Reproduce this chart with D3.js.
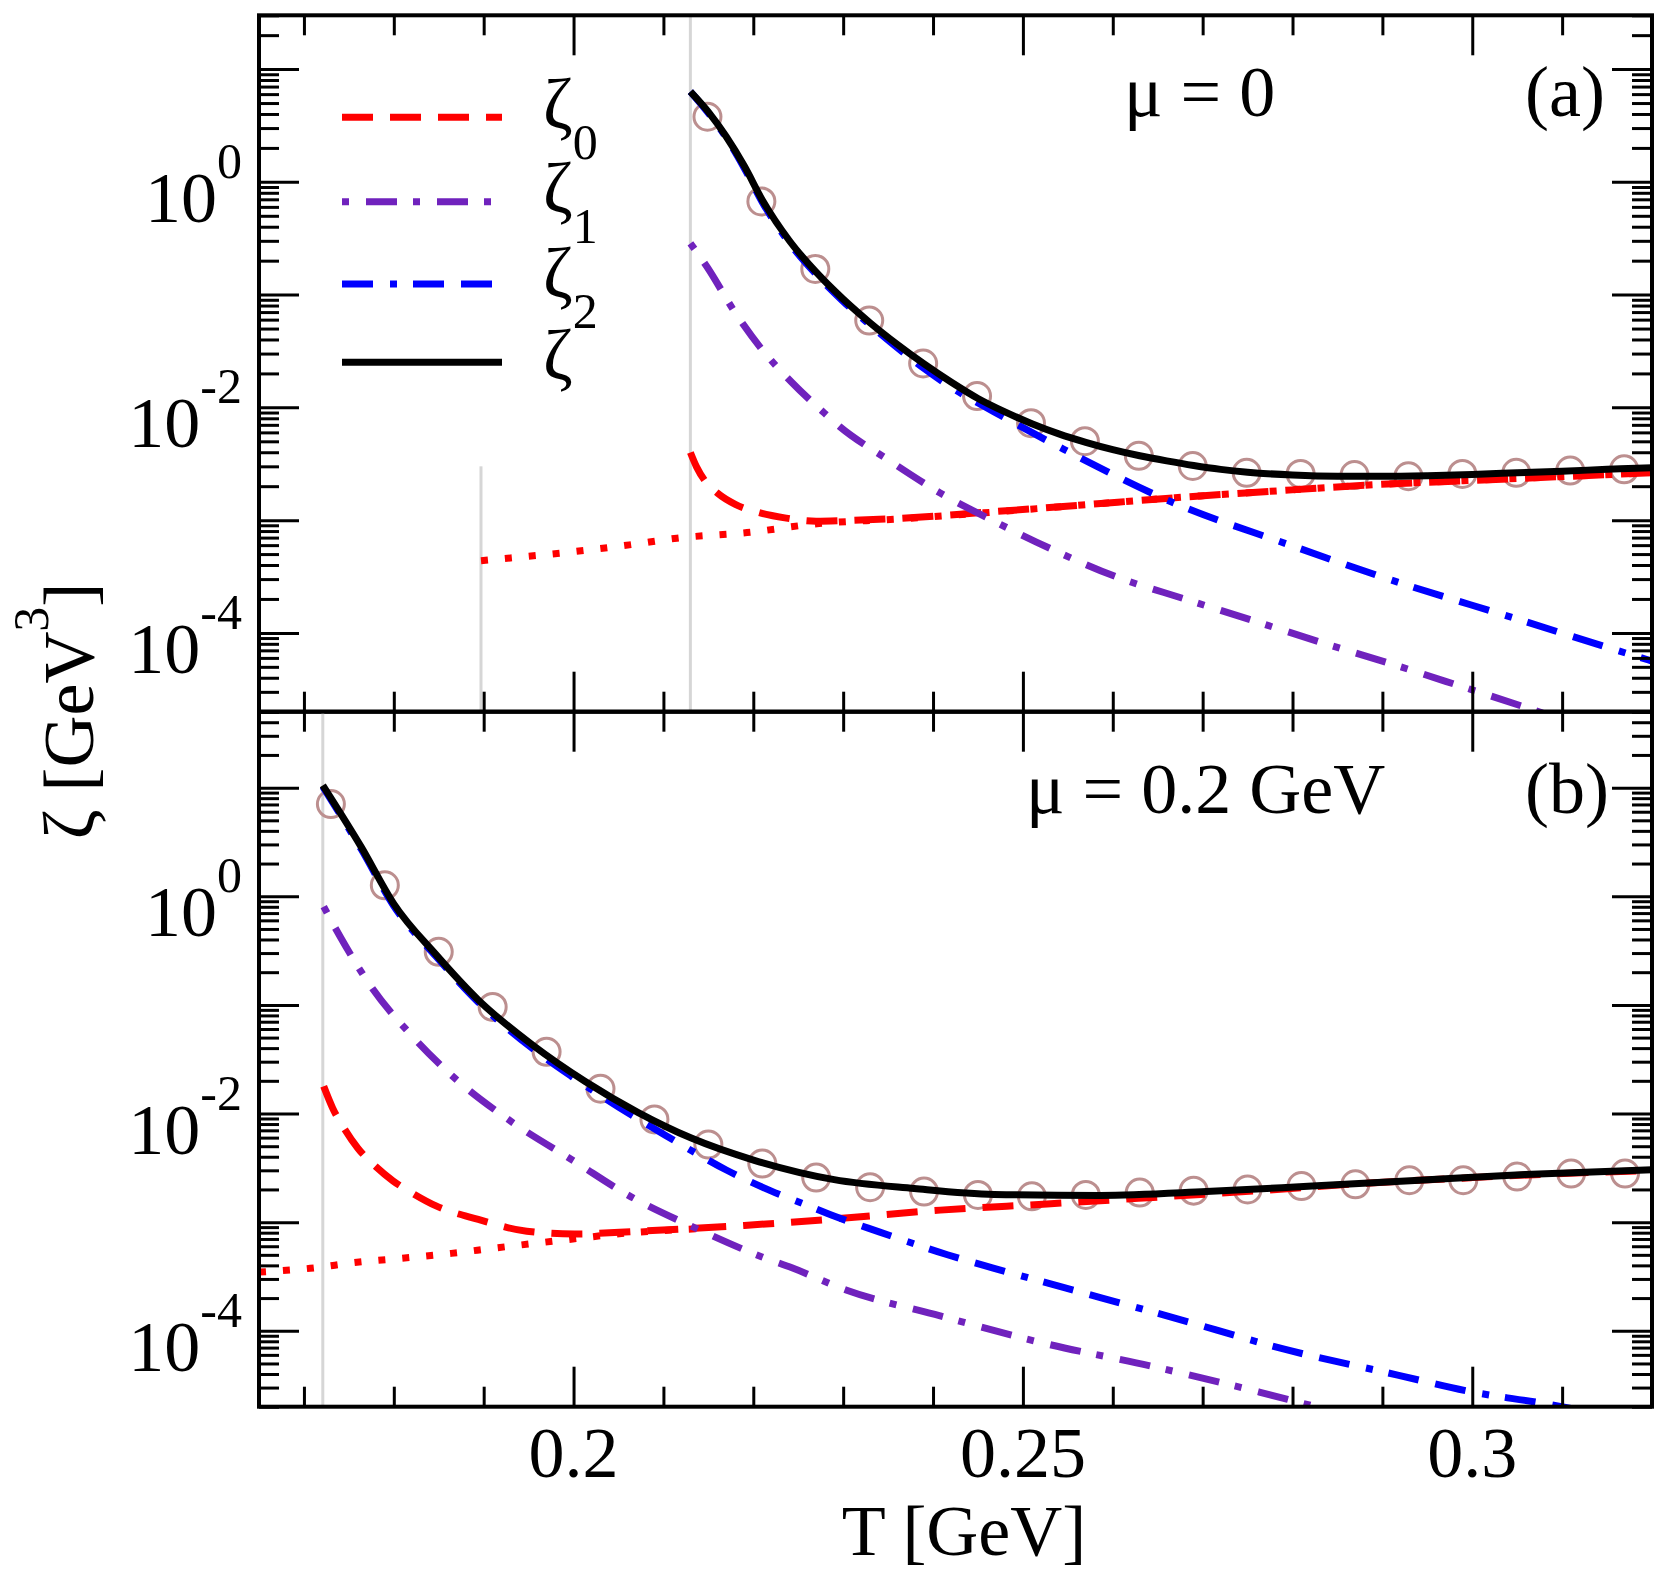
<!DOCTYPE html>
<html lang="en">
<head>
<meta charset="UTF-8">
<title>Bulk viscosity vs T</title>
<script src="https://d3js.org/d3.v7.min.js"></script>
<style>
  body { margin: 0; background: #fff; }
  svg { display: block; font-family: "Liberation Serif", "Times New Roman", serif; }
</style>
</head>
<body>
<div id="chart"></div>
<script>
// ---- axis ticks / labels ----
const xMajorTicks = [0.2, 0.25, 0.3];
const xTickLabels = ["0.2", "0.25", "0.3"];
const xMinorTicks = [0.17, 0.18, 0.19, 0.21, 0.22, 0.23, 0.24, 0.26, 0.27, 0.28, 0.29, 0.31];
const yLabelValues = [1, 1e-2, 1e-4];
const yLabelExps = ["0", "-2", "-4"];
const panelTags = ["(a)", "(b)"];
const panelMu = ["\u03bc = 0", "\u03bc = 0.2 GeV"];
const legendSubs = ["0", "1", "2", ""];

// ---- panel (a): mu = 0 ----
const aGreyT = [0.1897, 0.213];
const aGreyTop = [3.0e-3, 30];
const aPoints = [
  [0.2149, 3.78], [0.2209, 0.671], [0.2269, 0.169], [0.2329, 5.89e-2], [0.2389, 2.45e-2],
  [0.2449, 1.26e-2], [0.2509, 7.24e-3], [0.2569, 5.01e-3], [0.2629, 3.72e-3], [0.2689, 3.02e-3],
  [0.2749, 2.63e-3], [0.2809, 2.57e-3], [0.2869, 2.51e-3], [0.2929, 2.45e-3], [0.2989, 2.57e-3],
  [0.3049, 2.63e-3], [0.3109, 2.75e-3], [0.3169, 2.82e-3]
];
const aZeta = [
  [0.2130, 6.31], [0.2150, 4.17], [0.2170, 2.51], [0.2190, 1.38], [0.2210, 0.692],
  [0.2240, 0.302], [0.2270, 0.158], [0.2300, 9.12e-2], [0.2330, 5.62e-2], [0.2360, 3.63e-2],
  [0.2390, 2.43e-2], [0.2420, 1.68e-2], [0.2450, 1.20e-2], [0.2480, 9.12e-3], [0.2510, 7.16e-3],
  [0.2540, 5.82e-3], [0.2570, 4.90e-3], [0.2600, 4.22e-3], [0.2630, 3.72e-3], [0.2660, 3.35e-3],
  [0.2690, 3.05e-3], [0.2720, 2.82e-3], [0.2750, 2.66e-3], [0.2800, 2.51e-3], [0.2850, 2.45e-3],
  [0.2900, 2.45e-3], [0.2950, 2.48e-3], [0.3000, 2.54e-3], [0.3050, 2.63e-3], [0.3100, 2.72e-3],
  [0.3150, 2.82e-3], [0.3200, 2.92e-3]
];
const aZeta2 = [
  [0.2130, 6.31], [0.2150, 4.07], [0.2170, 2.45], [0.2190, 1.32], [0.2210, 0.661],
  [0.2240, 0.288], [0.2270, 0.151], [0.2300, 8.71e-2], [0.2330, 5.37e-2], [0.2360, 3.39e-2],
  [0.2390, 2.21e-2], [0.2420, 1.51e-2], [0.2468, 9.12e-3], [0.2545, 4.27e-3], [0.2669, 1.41e-3],
  [0.2793, 6.17e-4], [0.2917, 2.82e-4], [0.3047, 1.35e-4], [0.3171, 6.61e-5], [0.3200, 5.62e-5]
];
const aZeta1 = [
  [0.2130, 0.285], [0.2149, 0.174], [0.2179, 7.08e-2], [0.2208, 3.39e-2], [0.2243, 1.66e-2],
  [0.2279, 8.91e-3], [0.2296, 6.76e-3], [0.2349, 3.47e-3], [0.2408, 1.74e-3], [0.2468, 9.77e-4],
  [0.2530, 5.62e-4], [0.2603, 3.16e-4], [0.2680, 2.00e-4], [0.2754, 1.30e-4], [0.2830, 8.32e-5],
  [0.2908, 5.37e-5], [0.2984, 3.43e-5], [0.3059, 2.19e-5], [0.3120, 1.51e-5]
];
const aZeta0 = [
  [0.2130, 3.98e-3], [0.2137, 2.95e-3], [0.2146, 2.24e-3], [0.2160, 1.74e-3], [0.2180, 1.38e-3],
  [0.2205, 1.175e-3], [0.2235, 1.047e-3], [0.2270, 9.77e-4], [0.2300, 9.89e-4], [0.2360, 1.035e-3],
  [0.2456, 1.17e-3], [0.2560, 1.35e-3], [0.2669, 1.58e-3], [0.2775, 1.80e-3], [0.2881, 2.04e-3],
  [0.3040, 2.32e-3], [0.3200, 2.63e-3]
];
const aZeta0Dotted = [
  [0.1897, 4.37e-4], [0.1930, 4.62e-4], [0.2000, 5.25e-4], [0.2062, 6.03e-4], [0.2115, 6.92e-4],
  [0.2193, 7.76e-4], [0.2273, 9.33e-4], [0.2360, 1.02e-3], [0.2456, 1.16e-3], [0.2560, 1.35e-3],
  [0.2669, 1.58e-3], [0.2775, 1.80e-3], [0.2881, 2.04e-3], [0.3040, 2.32e-3], [0.3200, 2.63e-3]
];

// ---- panel (b): mu = 0.2 GeV ----
const bGreyT = [0.1721];
const bGreyTop = [50];
const bPoints = [
  [0.173, 7.06], [0.179, 1.26], [0.185, 0.308], [0.191, 9.57e-2], [0.197, 3.70e-2],
  [0.203, 1.69e-2], [0.209, 8.83e-3], [0.215, 5.18e-3], [0.221, 3.46e-3], [0.227, 2.57e-3],
  [0.233, 2.10e-3], [0.239, 1.91e-3], [0.245, 1.78e-3], [0.251, 1.73e-3], [0.257, 1.78e-3],
  [0.263, 1.87e-3], [0.269, 1.95e-3], [0.275, 2.00e-3], [0.281, 2.15e-3], [0.287, 2.23e-3],
  [0.293, 2.43e-3], [0.299, 2.43e-3], [0.305, 2.63e-3], [0.311, 2.80e-3], [0.317, 2.80e-3]
];
const bZeta = [
  [0.1721, 10.5], [0.1764, 2.82], [0.1800, 0.851], [0.1847, 0.290], [0.1894, 0.111],
  [0.1954, 4.29e-2], [0.2013, 1.97e-2], [0.2072, 1.02e-2], [0.2131, 5.94e-3], [0.2202, 3.69e-3],
  [0.2290, 2.46e-3], [0.2379, 2.04e-3], [0.2468, 1.80e-3], [0.2586, 1.76e-3], [0.2704, 1.91e-3],
  [0.2822, 2.15e-3], [0.2941, 2.43e-3], [0.3059, 2.74e-3], [0.3200, 3.03e-3]
];
const bZeta2 = [
  [0.1721, 10.2], [0.1764, 2.69], [0.1800, 0.813], [0.1847, 0.279], [0.1894, 0.106],
  [0.1954, 3.98e-2], [0.1998, 2.19e-2], [0.2050, 1.15e-2], [0.2102, 6.31e-3], [0.2135, 4.37e-3],
  [0.2170, 3.02e-3], [0.2219, 1.95e-3], [0.2255, 1.48e-3], [0.2292, 1.12e-3], [0.2340, 8.13e-4],
  [0.2379, 6.31e-4], [0.2416, 5.01e-4], [0.2466, 3.80e-4], [0.2545, 2.51e-4], [0.2669, 1.31e-4],
  [0.2793, 6.70e-5], [0.2917, 3.91e-5], [0.3000, 2.73e-5], [0.3077, 2.16e-5], [0.3120, 1.86e-5]
];
const bZeta1 = [
  [0.1722, 0.802], [0.1741, 0.415], [0.1776, 0.142], [0.1818, 5.43e-2], [0.1865, 2.22e-2],
  [0.1930, 8.51e-3], [0.2001, 3.63e-3], [0.2064, 1.71e-3], [0.2137, 8.71e-4], [0.2209, 4.81e-4],
  [0.2243, 3.80e-4], [0.2304, 2.36e-4], [0.2408, 1.37e-4], [0.2527, 7.55e-5], [0.2645, 4.68e-5],
  [0.2763, 2.73e-5], [0.2822, 2.04e-5], [0.2860, 1.70e-5]
];
const bZeta0 = [
  [0.1722, 1.78e-2], [0.1732, 1.12e-2], [0.1745, 7.24e-3], [0.1760, 4.79e-3], [0.1780, 3.24e-3],
  [0.1799, 2.40e-3], [0.1820, 1.86e-3], [0.1847, 1.41e-3], [0.1894, 1.06e-3], [0.1948, 8.24e-4],
  [0.2001, 7.78e-4], [0.2072, 8.24e-4], [0.2190, 9.33e-4], [0.2290, 1.07e-3], [0.2408, 1.29e-3],
  [0.2527, 1.47e-3], [0.2645, 1.69e-3], [0.2763, 1.95e-3], [0.2882, 2.28e-3], [0.3000, 2.57e-3],
  [0.3108, 2.82e-3], [0.3200, 2.99e-3]
];
const bZeta0Dotted = [
  [0.1650, 3.47e-4], [0.1707, 3.76e-4], [0.1759, 4.27e-4], [0.1812, 4.68e-4], [0.1864, 5.16e-4],
  [0.1912, 5.77e-4], [0.1995, 6.93e-4], [0.2060, 7.94e-4], [0.2140, 8.71e-4]
];

// ---- layout ----
const W = 1670, H = 1587;
const left = 259, right = 1652;
const panelBox = [{ top: 15.3, bottom: 711.7 }, { top: 711.7, bottom: 1406.7 }];
const yDomains = [[2e-5, 30], [2e-5, 50]];
const lineW = 7;

const styles = {
  dotted: { color: "#ff0000", dash: "7,17" },
  z0: { color: "#ff0000", dash: "31,17" },
  z1: { color: "#7022bd", dash: "7,17,31,16" },
  z2: { color: "#0000ff", dash: "31,17,7,16,31,17" },
  tot: { color: "#000000", dash: null }
};

const panels = [
  { greyT: aGreyT, greyTop: aGreyTop, points: aPoints,
    series: [[aZeta0Dotted, "dotted"], [aZeta0, "z0"], [aZeta1, "z1"], [aZeta2, "z2"], [aZeta, "tot"]] },
  { greyT: bGreyT, greyTop: bGreyTop, points: bPoints,
    series: [[bZeta0Dotted, "dotted"], [bZeta0, "z0"], [bZeta1, "z1"], [bZeta2, "z2"], [bZeta, "tot"]] }
];

const svg = d3.select("#chart").append("svg")
  .attr("width", W)
  .attr("height", H);

svg.append("rect").attr("width", W).attr("height", H).attr("fill", "#fff");

const x = d3.scaleLinear().domain([0.165, 0.32]).range([left, right]);

function logTicks(domain) {
  const major = [], minor = [];
  for (let e = -6; e <= 2; e++) {
    for (let m = 1; m <= 9; m++) {
      const v = m * Math.pow(10, e);
      if (v < domain[0] * 0.999 || v > domain[1] * 1.001) continue;
      (m === 1 ? major : minor).push(v);
    }
  }
  return { major, minor };
}

function tickAxis(g, axis, values, size) {
  g.call(axis.tickValues(values).tickSize(-size).tickSizeOuter(0).tickFormat(""));
  g.select(".domain").remove();
  g.selectAll(".tick line").attr("stroke", "#000").attr("stroke-width", 3);
}

panels.forEach((p, i) => {
  const box = panelBox[i];
  const y = d3.scaleLog().domain(yDomains[i]).range([box.bottom, box.top]);
  const g = svg.append("g");

  const clipId = "clip" + i;
  svg.append("clipPath").attr("id", clipId)
    .append("rect")
    .attr("x", left).attr("y", box.top)
    .attr("width", right - left).attr("height", box.bottom - box.top);

  const plot = g.append("g").attr("clip-path", `url(#${clipId})`);

  // grey markers of the transition temperature
  plot.selectAll(".grey").data(p.greyT).join("line")
    .attr("x1", d => x(d)).attr("x2", d => x(d))
    .attr("y1", (d, k) => y(p.greyTop[k])).attr("y2", box.bottom)
    .attr("stroke", "#d6d6d6").attr("stroke-width", 3);

  // symbols
  plot.selectAll("circle").data(p.points).join("circle")
    .attr("cx", d => x(d[0])).attr("cy", d => y(d[1]))
    .attr("r", 13.5)
    .attr("fill", "none")
    .attr("stroke", "#bc8f8f")
    .attr("stroke-width", 3);

  const line = d3.line()
    .x(d => x(d[0]))
    .y(d => y(d[1]))
    .curve(d3.curveMonotoneX);

  p.series.forEach(([data, key]) => {
    const s = styles[key];
    plot.append("path")
      .datum(data)
      .attr("fill", "none")
      .attr("stroke", s.color)
      .attr("stroke-width", lineW)
      .attr("stroke-dasharray", s.dash)
      .attr("stroke-linejoin", "round")
      .attr("d", line);
  });

  // ticks on all four sides, pointing inwards
  const yt = logTicks(yDomains[i]);
  tickAxis(g.append("g").attr("transform", `translate(${left},0)`), d3.axisLeft(y), yt.major, 40);
  tickAxis(g.append("g").attr("transform", `translate(${left},0)`), d3.axisLeft(y), yt.minor, 20);
  tickAxis(g.append("g").attr("transform", `translate(${right},0)`), d3.axisRight(y), yt.major, 40);
  tickAxis(g.append("g").attr("transform", `translate(${right},0)`), d3.axisRight(y), yt.minor, 20);
  tickAxis(g.append("g").attr("transform", `translate(0,${box.top})`), d3.axisTop(x), xMajorTicks, 40);
  tickAxis(g.append("g").attr("transform", `translate(0,${box.top})`), d3.axisTop(x), xMinorTicks, 20);
  tickAxis(g.append("g").attr("transform", `translate(0,${box.bottom})`), d3.axisBottom(x), xMajorTicks, 40);
  tickAxis(g.append("g").attr("transform", `translate(0,${box.bottom})`), d3.axisBottom(x), xMinorTicks, 20);

  g.append("rect")
    .attr("x", left).attr("y", box.top)
    .attr("width", right - left).attr("height", box.bottom - box.top)
    .attr("fill", "none").attr("stroke", "#000").attr("stroke-width", 4);

  // y tick labels 10^n
  yLabelValues.forEach((v, k) => {
    const t = g.append("text")
      .attr("x", 242).attr("y", y(v) + 40)
      .attr("text-anchor", "end")
      .attr("font-size", 72);
    t.append("tspan").text("10");
    t.append("tspan").attr("dy", -44).attr("font-size", 50).text(yLabelExps[k]);
  });

  // annotations
  g.append("text")
    .attr("x", i === 0 ? 1124 : 1026).attr("y", box.top + 101)
    .attr("font-size", 72).text(panelMu[i]);
  g.append("text")
    .attr("x", 1525).attr("y", box.top + 101)
    .attr("font-size", 72).text(panelTags[i]);
});

// x tick labels
svg.selectAll(".xlab").data(xMajorTicks).join("text")
  .attr("x", d => x(d)).attr("y", 1477)
  .attr("text-anchor", "middle")
  .attr("font-size", 72)
  .text((d, k) => xTickLabels[k]);

svg.append("text")
  .attr("x", 964).attr("y", 1555)
  .attr("text-anchor", "middle")
  .attr("font-size", 72)
  .text("T [GeV]");

// y axis title
const yt = svg.append("text")
  .attr("transform", "translate(93,711) rotate(-90)")
  .attr("text-anchor", "middle")
  .attr("font-size", 72);
yt.append("tspan").text("\u03b6 [GeV");
yt.append("tspan").attr("dy", -45).attr("font-size", 50).text("3");
yt.append("tspan").attr("dy", 45).text("]");

// legend
const legendKeys = ["z0", "z1", "z2", "tot"];
const legendLineY = [117.3, 201.7, 284, 362.3];
const legendTextY = [128, 212, 297, 379];
const legend = svg.append("g");
legendKeys.forEach((key, k) => {
  const s = styles[key];
  legend.append("line")
    .attr("x1", 342).attr("x2", 502)
    .attr("y1", legendLineY[k]).attr("y2", legendLineY[k])
    .attr("stroke", s.color)
    .attr("stroke-width", lineW)
    .attr("stroke-dasharray", s.dash);
  const t = legend.append("text")
    .attr("x", 543).attr("y", legendTextY[k])
    .attr("font-size", 72);
  t.append("tspan").text("\u03b6");
  if (legendSubs[k]) t.append("tspan").attr("dy", 31).attr("font-size", 50).text(legendSubs[k]);
});
</script>
</body>
</html>
